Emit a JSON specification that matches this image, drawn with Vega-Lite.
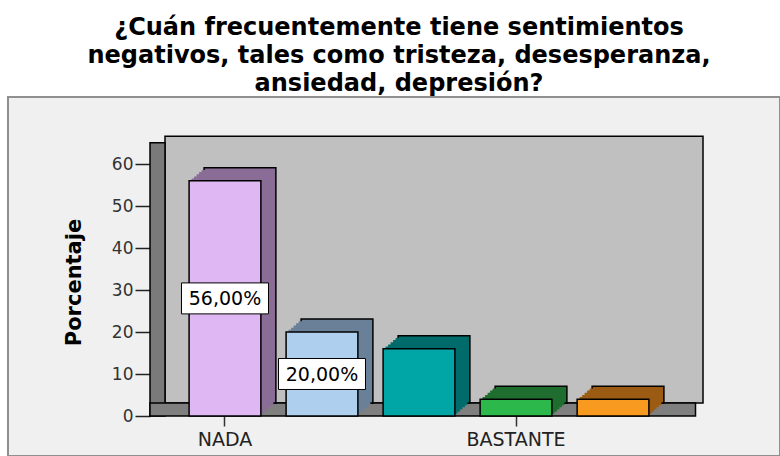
{
  "$schema": "https://vega.github.io/schema/vega-lite/v6.json",
  "width": 772,
  "height": 359,
  "autosize": {"type": "none"},
  "padding": {"left": 8, "top": 97, "right": 0, "bottom": 0},
  "background": "white",
  "view": {"fill": "#f0f0f0", "stroke": "#8f8f8f", "strokeWidth": 2},
  "config": {"font": "DejaVu Sans"},
  "title": {
    "text": ["¿Cuán frecuentemente tiene sentimientos", "negativos, tales como tristeza, desesperanza,", "ansiedad, depresión?"],
    "font": "DejaVu Sans",
    "fontSize": 24,
    "fontWeight": "bold",
    "color": "#000000",
    "lineHeight": 28,
    "anchor": "middle",
    "frame": "group",
    "dx": 5,
    "offset": 1
  },
  "data": {
    "values": [
      {"respuesta": "NADA", "porcentaje": 56, "etiqueta": "56,00%"},
      {"respuesta": "UN POCO", "porcentaje": 20, "etiqueta": "20,00%"},
      {"respuesta": "LO NORMAL", "porcentaje": 16, "etiqueta": ""},
      {"respuesta": "BASTANTE", "porcentaje": 4, "etiqueta": ""},
      {"respuesta": "EXTREMADAMENTE", "porcentaje": 4, "etiqueta": ""}
    ]
  },
  "resolve": {"scale": {"x": "independent", "y": "independent", "color": "independent"}},
  "layer": [
    {
      "data": {"values": [{}]},
      "mark": {"type": "rect", "fill": "#c0c0c0", "stroke": "#000000", "strokeWidth": 1.5, "xOffset": 15, "x2Offset": 15, "yOffset": -13, "y2Offset": -13},
      "encoding": {
        "x": {"datum": 0, "type": "quantitative", "scale": {"type": "linear", "domain": [0, 1], "range": [142, 680], "nice": false, "zero": false}, "axis": null},
        "x2": {"datum": 1},
        "y": {"datum": 0, "type": "quantitative", "scale": {"domain": [0, 60], "range": [319, 67], "nice": false, "zero": false}, "axis": null},
        "y2": {"datum": 63.5}
      }
    },
    {
      "data": {"values": [{}]},
      "mark": {"type": "rect", "fill": "#7a7a7a", "stroke": "#000000", "strokeWidth": 1.5, "x2Offset": 15, "y2Offset": -6.5},
      "encoding": {
        "x": {"datum": 0, "type": "quantitative", "scale": {"type": "linear", "domain": [0, 1], "range": [142, 680], "nice": false, "zero": false}, "axis": null},
        "x2": {"datum": 0},
        "y": {"datum": 0, "type": "quantitative", "scale": {"domain": [0, 60], "range": [319, 67], "nice": false, "zero": false}, "axis": null},
        "y2": {"datum": 63.5}
      }
    },
    {
      "data": {"values": [{}]},
      "mark": {"type": "rect", "fill": "#7f7f7f", "stroke": "#000000", "strokeWidth": 1.5, "x2Offset": 7.5, "y2Offset": -13},
      "encoding": {
        "x": {"datum": 0, "type": "quantitative", "scale": {"type": "linear", "domain": [0, 1], "range": [142, 680], "nice": false, "zero": false}, "axis": null},
        "x2": {"datum": 1},
        "y": {"datum": 0, "type": "quantitative", "scale": {"domain": [0, 60], "range": [319, 67], "nice": false, "zero": false}, "axis": null},
        "y2": {"datum": 0}
      }
    },
    {
      "mark": {"type": "bar", "stroke": "#000000", "strokeWidth": 1.5, "xOffset": 15, "yOffset": -13, "y2Offset": -13},
      "encoding": {
        "x": {"field": "respuesta", "type": "nominal", "sort": null, "scale": {"type": "band", "domain": ["NADA", "UN POCO", "LO NORMAL", "BASTANTE", "EXTREMADAMENTE"], "range": [142, 680], "paddingInner": 0.26, "paddingOuter": 0.403}, "axis": null},
        "y": {"field": "porcentaje", "type": "quantitative", "scale": {"domain": [0, 60], "range": [319, 67], "nice": false, "zero": false}, "axis": null},
        "color": {"field": "respuesta", "type": "nominal", "scale": {"domain": ["NADA", "UN POCO", "LO NORMAL", "BASTANTE", "EXTREMADAMENTE"], "range": ["#8a6d96", "#6a8099", "#006b6b", "#1f6e2f", "#9b5b13"]}, "legend": null}
      }
    },
    {
      "mark": {"type": "bar", "xOffset": 12.5, "yOffset": -10.8, "y2Offset": -10.8},
      "encoding": {
        "x": {"field": "respuesta", "type": "nominal", "sort": null, "scale": {"type": "band", "domain": ["NADA", "UN POCO", "LO NORMAL", "BASTANTE", "EXTREMADAMENTE"], "range": [142, 680], "paddingInner": 0.26, "paddingOuter": 0.403}, "axis": null},
        "y": {"field": "porcentaje", "type": "quantitative", "scale": {"domain": [0, 60], "range": [319, 67], "nice": false, "zero": false}, "axis": null},
        "color": {"field": "respuesta", "type": "nominal", "scale": {"domain": ["NADA", "UN POCO", "LO NORMAL", "BASTANTE", "EXTREMADAMENTE"], "range": ["#8a6d96", "#6a8099", "#006b6b", "#1f6e2f", "#9b5b13"]}, "legend": null}
      }
    },
    {
      "mark": {"type": "bar", "xOffset": 10, "yOffset": -8.7, "y2Offset": -8.7},
      "encoding": {
        "x": {"field": "respuesta", "type": "nominal", "sort": null, "scale": {"type": "band", "domain": ["NADA", "UN POCO", "LO NORMAL", "BASTANTE", "EXTREMADAMENTE"], "range": [142, 680], "paddingInner": 0.26, "paddingOuter": 0.403}, "axis": null},
        "y": {"field": "porcentaje", "type": "quantitative", "scale": {"domain": [0, 60], "range": [319, 67], "nice": false, "zero": false}, "axis": null},
        "color": {"field": "respuesta", "type": "nominal", "scale": {"domain": ["NADA", "UN POCO", "LO NORMAL", "BASTANTE", "EXTREMADAMENTE"], "range": ["#8a6d96", "#6a8099", "#006b6b", "#1f6e2f", "#9b5b13"]}, "legend": null}
      }
    },
    {
      "mark": {"type": "bar", "xOffset": 7.5, "yOffset": -6.5, "y2Offset": -6.5},
      "encoding": {
        "x": {"field": "respuesta", "type": "nominal", "sort": null, "scale": {"type": "band", "domain": ["NADA", "UN POCO", "LO NORMAL", "BASTANTE", "EXTREMADAMENTE"], "range": [142, 680], "paddingInner": 0.26, "paddingOuter": 0.403}, "axis": null},
        "y": {"field": "porcentaje", "type": "quantitative", "scale": {"domain": [0, 60], "range": [319, 67], "nice": false, "zero": false}, "axis": null},
        "color": {"field": "respuesta", "type": "nominal", "scale": {"domain": ["NADA", "UN POCO", "LO NORMAL", "BASTANTE", "EXTREMADAMENTE"], "range": ["#8a6d96", "#6a8099", "#006b6b", "#1f6e2f", "#9b5b13"]}, "legend": null}
      }
    },
    {
      "mark": {"type": "bar", "xOffset": 5, "yOffset": -4.3, "y2Offset": -4.3},
      "encoding": {
        "x": {"field": "respuesta", "type": "nominal", "sort": null, "scale": {"type": "band", "domain": ["NADA", "UN POCO", "LO NORMAL", "BASTANTE", "EXTREMADAMENTE"], "range": [142, 680], "paddingInner": 0.26, "paddingOuter": 0.403}, "axis": null},
        "y": {"field": "porcentaje", "type": "quantitative", "scale": {"domain": [0, 60], "range": [319, 67], "nice": false, "zero": false}, "axis": null},
        "color": {"field": "respuesta", "type": "nominal", "scale": {"domain": ["NADA", "UN POCO", "LO NORMAL", "BASTANTE", "EXTREMADAMENTE"], "range": ["#8a6d96", "#6a8099", "#006b6b", "#1f6e2f", "#9b5b13"]}, "legend": null}
      }
    },
    {
      "mark": {"type": "bar", "xOffset": 2.5, "yOffset": -2.2, "y2Offset": -2.2},
      "encoding": {
        "x": {"field": "respuesta", "type": "nominal", "sort": null, "scale": {"type": "band", "domain": ["NADA", "UN POCO", "LO NORMAL", "BASTANTE", "EXTREMADAMENTE"], "range": [142, 680], "paddingInner": 0.26, "paddingOuter": 0.403}, "axis": null},
        "y": {"field": "porcentaje", "type": "quantitative", "scale": {"domain": [0, 60], "range": [319, 67], "nice": false, "zero": false}, "axis": null},
        "color": {"field": "respuesta", "type": "nominal", "scale": {"domain": ["NADA", "UN POCO", "LO NORMAL", "BASTANTE", "EXTREMADAMENTE"], "range": ["#8a6d96", "#6a8099", "#006b6b", "#1f6e2f", "#9b5b13"]}, "legend": null}
      }
    },
    {
      "mark": {"type": "bar", "stroke": "#000000", "strokeWidth": 1.5},
      "encoding": {
        "x": {
          "field": "respuesta", "type": "nominal", "sort": null,
          "scale": {"type": "band", "domain": ["NADA", "UN POCO", "LO NORMAL", "BASTANTE", "EXTREMADAMENTE"], "range": [142, 680], "paddingInner": 0.26, "paddingOuter": 0.403},
          "axis": {"orient": "bottom", "offset": -40, "values": ["NADA", "BASTANTE"], "domain": false, "grid": false, "tickSize": 10, "tickWidth": 1.5, "tickColor": "#333333", "labelFont": "DejaVu Sans", "labelFontSize": 19, "labelColor": "#222222", "labelPadding": 4, "labelAngle": 0, "title": null}
        },
        "y": {
          "field": "porcentaje", "type": "quantitative",
          "scale": {"domain": [0, 60], "range": [319, 67], "nice": false, "zero": false},
          "axis": {"orient": "left", "offset": -142, "values": [0, 10, 20, 30, 40, 50, 60], "domain": false, "grid": false, "tickSize": 15, "tickWidth": 1.5, "tickColor": "#222222", "labelFont": "DejaVu Sans", "labelFontSize": 17, "labelColor": "#333333", "labelPadding": 2, "title": "Porcentaje", "titleFont": "DejaVu Sans", "titleFontWeight": "bold", "titleFontSize": 21, "titleColor": "#000000", "titleX": -70, "titleY": 185, "titleBaseline": "alphabetic", "titleAngle": -90, "titleAlign": "center"}
        },
        "color": {"field": "respuesta", "type": "nominal", "scale": {"domain": ["NADA", "UN POCO", "LO NORMAL", "BASTANTE", "EXTREMADAMENTE"], "range": ["#dfb7f2", "#aed0ee", "#00a6a6", "#2db84c", "#f89a1f"]}, "legend": null}
      }
    },
    {
      "transform": [{"filter": "datum.etiqueta != ''"}],
      "mark": {"type": "point", "shape": "M-1,-0.356L1,-0.356L1,0.356L-1,0.356Z", "size": 7569, "filled": true, "fill": "#ffffff", "stroke": "#000000", "strokeWidth": 1, "opacity": 1},
      "encoding": {
        "x": {"field": "respuesta", "type": "nominal", "sort": null, "scale": {"type": "band", "domain": ["NADA", "UN POCO", "LO NORMAL", "BASTANTE", "EXTREMADAMENTE"], "range": [142, 680], "paddingInner": 0.26, "paddingOuter": 0.403}, "axis": null},
        "y": {"field": "porcentaje", "type": "quantitative", "scale": {"domain": [0, 120], "range": [319, 67], "nice": false, "zero": false}, "axis": null}
      }
    },
    {
      "transform": [{"filter": "datum.etiqueta != ''"}],
      "mark": {"type": "text", "font": "DejaVu Sans", "fontSize": 19, "color": "#000000", "align": "center", "baseline": "middle", "dy": 1},
      "encoding": {
        "x": {"field": "respuesta", "type": "nominal", "sort": null, "scale": {"type": "band", "domain": ["NADA", "UN POCO", "LO NORMAL", "BASTANTE", "EXTREMADAMENTE"], "range": [142, 680], "paddingInner": 0.26, "paddingOuter": 0.403}, "axis": null},
        "y": {"field": "porcentaje", "type": "quantitative", "scale": {"domain": [0, 120], "range": [319, 67], "nice": false, "zero": false}, "axis": null},
        "text": {"field": "etiqueta"}
      }
    }
  ]
}
